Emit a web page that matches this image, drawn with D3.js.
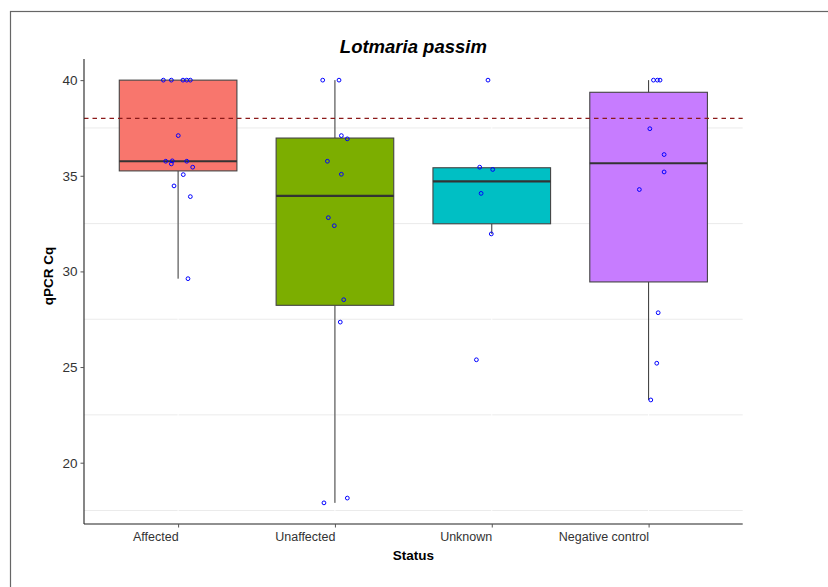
<!DOCTYPE html>
<html>
<head>
<meta charset="utf-8">
<script src="https://cdn.jsdelivr.net/npm/d3@7"></script>
<style>
  html, body { margin: 0; padding: 0; background: #fff; }
  svg { display: block; font-family: "Liberation Sans", Arial, sans-serif; }
</style>
</head>
<body>
<svg id="chart" width="828" height="587"></svg>
<script>
// Groups and their fill colours
const categories = ["Affected", "Unaffected", "Unknown", "Negative control"];
const fillColors = ["#F8766D", "#7CAE00", "#00BFC4", "#C77CFF"];

// Cq values per sample, one array per group
const affectedCq = [40, 40, 40, 40, 40, 37.1, 35.76, 35.78, 35.62, 35.76, 35.45, 35.06, 34.47, 33.91, 29.62];
const unaffectedCq = [40, 40, 37.1, 36.93, 35.76, 35.08, 32.81, 32.39, 28.52, 27.35, 17.9, 18.15];
const unknownCq = [40, 35.45, 35.33, 34.08, 31.96, 25.38];
const negativeCq = [40, 40, 40, 37.46, 36.11, 35.2, 34.28, 27.84, 25.2, 23.28];

// Horizontal jitter of each sample, as a fraction of the category step
const affectedJitter = [-0.094, -0.043, 0.031, 0.055, 0.078, 0.001, -0.079, -0.037, -0.043, 0.055, 0.093, 0.033, -0.026, 0.078, 0.063];
const unaffectedJitter = [-0.078, 0.026, 0.041, 0.079, -0.048, 0.041, -0.042, -0.004, 0.056, 0.034, -0.070, 0.079];
const unknownJitter = [-0.024, -0.077, 0.006, -0.068, -0.003, -0.098];
const negativeJitter = [0.031, 0.056, 0.073, 0.008, 0.099, 0.099, -0.059, 0.061, 0.052, 0.014];

// Positivity cut-off
const cutoff = 38;
const yTicks = [20, 25, 30, 35, 40];
const yMinorTicks = [17.5, 22.5, 27.5, 32.5, 37.5];

const groups = categories.map((name, i) => ({
  name,
  fill: fillColors[i],
  values: [affectedCq, unaffectedCq, unknownCq, negativeCq][i],
  jitter: [affectedJitter, unaffectedJitter, unknownJitter, negativeJitter][i]
}));

const svg = d3.select("#chart");
const W = 828, H = 587;
const panel = { left: 84, right: 742.7, top: 59, bottom: 524 };

// Outer plot border
svg.append("rect")
  .attr("x", 10.5).attr("y", 11.5)
  .attr("width", W).attr("height", H)
  .attr("fill", "none").attr("stroke", "#666").attr("stroke-width", 1.2);

const allValues = groups.flatMap(g => g.values);
const [vmin, vmax] = d3.extent(allValues);
const pad = (vmax - vmin) * 0.05;

const y = d3.scaleLinear().domain([vmin - pad, vmax + pad]).range([panel.bottom, panel.top]);
const x = d3.scalePoint().domain(categories).range([panel.left, panel.right]).padding(0.6);
const step = x.step();
const boxW = step * 0.75;

// Grid: light minor lines across, white vertical lines at the categories
const grid = svg.append("g");
grid.selectAll("line.minor").data(yMinorTicks).join("line")
  .attr("x1", panel.left).attr("x2", panel.right)
  .attr("y1", d => y(d)).attr("y2", d => y(d))
  .attr("stroke", "#ebebeb").attr("stroke-width", 1);
grid.selectAll("line.vmajor").data(categories).join("line")
  .attr("x1", d => x(d)).attr("x2", d => x(d))
  .attr("y1", panel.top).attr("y2", panel.bottom)
  .attr("stroke", "#fff").attr("stroke-width", 1);

// Box statistics (R type-7 quantiles, 1.5 IQR whiskers)
groups.forEach(g => {
  const s = g.values.slice().sort(d3.ascending);
  g.q1 = d3.quantile(s, 0.25);
  g.med = d3.quantile(s, 0.5);
  g.q3 = d3.quantile(s, 0.75);
  const iqr = g.q3 - g.q1;
  g.lo = d3.min(s.filter(v => v >= g.q1 - 1.5 * iqr));
  g.hi = d3.max(s.filter(v => v <= g.q3 + 1.5 * iqr));
});

const boxes = svg.append("g").selectAll("g").data(groups).join("g");
boxes.append("line")
  .attr("x1", d => x(d.name)).attr("x2", d => x(d.name))
  .attr("y1", d => y(d.hi)).attr("y2", d => y(d.q3))
  .attr("stroke", "#333").attr("stroke-width", 1);
boxes.append("line")
  .attr("x1", d => x(d.name)).attr("x2", d => x(d.name))
  .attr("y1", d => y(d.q1)).attr("y2", d => y(d.lo))
  .attr("stroke", "#333").attr("stroke-width", 1);
boxes.append("rect")
  .attr("x", d => x(d.name) - boxW / 2).attr("width", boxW)
  .attr("y", d => y(d.q3)).attr("height", d => y(d.q1) - y(d.q3))
  .attr("fill", d => d.fill).attr("stroke", "#444").attr("stroke-width", 1.1);
boxes.append("line")
  .attr("x1", d => x(d.name) - boxW / 2).attr("x2", d => x(d.name) + boxW / 2)
  .attr("y1", d => y(d.med)).attr("y2", d => y(d.med))
  .attr("stroke", "#333").attr("stroke-width", 2.2);

// Cut-off line
svg.append("line")
  .attr("x1", panel.left).attr("x2", panel.right)
  .attr("y1", y(cutoff)).attr("y2", y(cutoff))
  .attr("stroke", "#8B1A1A").attr("stroke-width", 1.1)
  .attr("stroke-dasharray", "4.5,4");

// Jittered samples
const pts = groups.flatMap(g => g.values.map((v, i) => ({ name: g.name, v, j: g.jitter[i] })));
svg.append("g").selectAll("circle").data(pts).join("circle")
  .attr("cx", d => x(d.name) + d.j * step)
  .attr("cy", d => y(d.v))
  .attr("r", 1.9)
  .attr("fill", "none").attr("stroke", "#0000FF").attr("stroke-width", 1);

// Axes
const yAxis = svg.append("g").attr("transform", `translate(${panel.left},0)`)
  .call(d3.axisLeft(y).tickValues(yTicks).tickSize(3.5).tickPadding(3).tickFormat(d3.format("d")));
yAxis.select(".domain").attr("stroke", "#222").attr("stroke-width", 1.1)
  .attr("d", `M0,${panel.bottom}V${panel.top}`);
yAxis.selectAll(".tick line").attr("stroke", "#555");
yAxis.selectAll(".tick text").attr("fill", "#333").style("font-size", "13.5px")
  .style("font-family", "'Liberation Sans', Arial, sans-serif");

const xAxis = svg.append("g").attr("transform", `translate(0,${panel.bottom})`)
  .call(d3.axisBottom(x).tickSize(3.5).tickPadding(3));
xAxis.select(".domain").attr("stroke", "#222").attr("stroke-width", 1.1)
  .attr("d", `M${panel.left},0H${panel.right}`);
xAxis.selectAll(".tick line").attr("stroke", "#555");
xAxis.selectAll(".tick text").attr("fill", "#333").style("font-size", "12.5px")
  .style("font-family", "'Liberation Sans', Arial, sans-serif")
  .attr("text-anchor", "end").attr("dy", "0.85em");

// Titles
svg.append("text")
  .attr("x", (panel.left + panel.right) / 2).attr("y", 53)
  .attr("text-anchor", "middle")
  .style("font-size", "18.5px").style("font-weight", "bold").style("font-style", "italic")
  .attr("fill", "#000").text("Lotmaria passim");

svg.append("text")
  .attr("x", (panel.left + panel.right) / 2).attr("y", 560)
  .attr("text-anchor", "middle")
  .style("font-size", "13.5px").style("font-weight", "bold")
  .attr("fill", "#000").text("Status");

svg.append("text")
  .attr("transform", "translate(53,276) rotate(-90)")
  .attr("text-anchor", "middle")
  .style("font-size", "13.5px").style("font-weight", "bold")
  .attr("fill", "#000").text("qPCR Cq");
</script>
</body>
</html>
